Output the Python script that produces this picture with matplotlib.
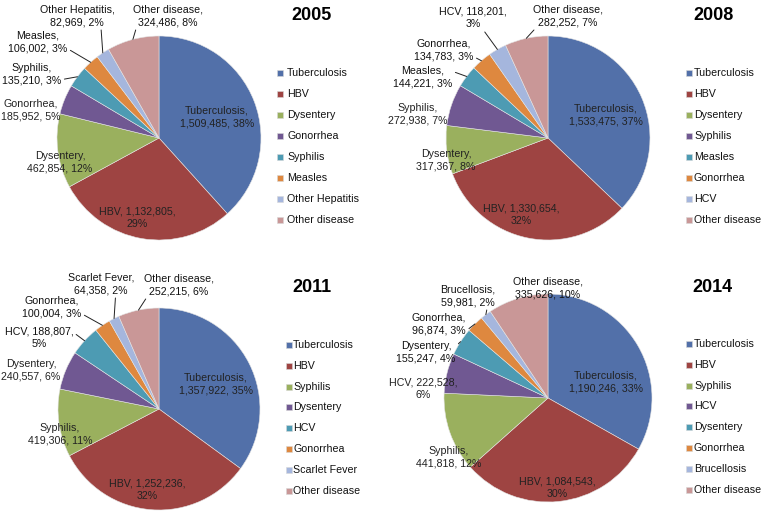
import numpy as np
import matplotlib.pyplot as plt
from matplotlib.patches import Rectangle

plt.rcParams['font.family'] = ['Liberation Sans', 'DejaVu Sans']

W, H = 762, 515

# ---- data ----
names_2005 = ['Tuberculosis', 'HBV', 'Dysentery', 'Gonorrhea', 'Syphilis', 'Measles', 'Other Hepatitis', 'Other disease']
cases_2005 = [1509485, 1132805, 462854, 185952, 135210, 106002, 82969, 324486]
pct_2005 = [38, 29, 12, 5, 3, 3, 2, 8]

names_2008 = ['Tuberculosis', 'HBV', 'Dysentery', 'Syphilis', 'Measles', 'Gonorrhea', 'HCV', 'Other disease']
cases_2008 = [1533475, 1330654, 317367, 272938, 144221, 134783, 118201, 282252]
pct_2008 = [37, 32, 8, 7, 3, 3, 3, 7]

names_2011 = ['Tuberculosis', 'HBV', 'Syphilis', 'Dysentery', 'HCV', 'Gonorrhea', 'Scarlet Fever', 'Other disease']
cases_2011 = [1357922, 1252236, 419306, 240557, 188807, 100004, 64358, 252215]
pct_2011 = [35, 32, 11, 6, 5, 3, 2, 6]

names_2014 = ['Tuberculosis', 'HBV', 'Syphilis', 'HCV', 'Dysentery', 'Gonorrhea', 'Brucellosis', 'Other disease']
cases_2014 = [1190246, 1084543, 441818, 222528, 155247, 96874, 59981, 335626]
pct_2014 = [33, 30, 12, 6, 4, 3, 2, 10]

colors = ['#5270A9', '#9E4442', '#9AB05E', '#705892', '#4D9BB3', '#DE883F', '#A5B6DD', '#C99797']

# ---- layout (pixel positions, y from top) ----
panels = [
    dict(year='2005', names=names_2005, cases=cases_2005, pct=pct_2005,
         center=(159, 138, 102), title=(312, 16), legend=(277, 287, 73, 21),
         labels=[(217, 117), (137, 218), (60, 162), (31, 110), (32, 74), (38, 42), (77, 16), (168, 16)],
         leaders={4: (1, 0.25), 5: (1, 0.2), 6: (0.82, 0), 7: (0.05, 0)}),
    dict(year='2008', names=names_2008, cases=cases_2008, pct=pct_2008,
         center=(548, 138, 102), title=(713, 16), legend=(686, 694, 73, 21),
         labels=[(606, 115), (521, 215), (446, 160), (418, 114), (423, 77), (444, 50), (473, 18), (568, 16)],
         leaders={4: (1, 0.75), 5: (1, 0.2), 6: (0.62, 0.1), 7: (0.05, 0)}),
    dict(year='2011', names=names_2011, cases=cases_2011, pct=pct_2011,
         center=(159, 409, 101), title=(312, 287), legend=(286, 293, 345, 20.8),
         labels=[(216, 384), (147, 490), (60, 434), (31, 370), (39, 338), (52, 307), (101, 284), (179, 285)],
         leaders={4: (1, 0.75), 5: (1, 0.2), 6: (0.72, 0), 7: (0.05, 0)}),
    dict(year='2014', names=names_2014, cases=cases_2014, pct=pct_2014,
         center=(548, 398, 104), title=(712, 287), legend=(686, 694, 344, 20.8),
         labels=[(606, 382), (557, 488), (449, 457), (423, 389), (426, 352), (439, 324), (468, 296), (548, 288)],
         leaders={4: (1, 0.75), 5: (1, 0.2), 6: (0.85, 0), 7: (0.05, 0)}),
]


def label_text(name, n, p):
    num = f'{n:,}'
    if len(name) <= 3:
        return f'{name}, {num},\n{p}%'
    return f'{name},\n{num}, {p}%'


fig = plt.figure(figsize=(W / 100, H / 100), dpi=100)
ax = fig.add_axes([0, 0, 1, 1])

for p in panels:
    cx, cy, r = p['center']
    wedges, _ = ax.pie(p['cases'], colors=colors, startangle=90, counterclock=False,
                       center=(cx, H - cy), radius=r, frame=True,
                       wedgeprops=dict(edgecolor='#e4e4e4', linewidth=0.4))

    for j, w in enumerate(wedges):
        s = label_text(p['names'][j], p['cases'][j], p['pct'][j])
        lx, ly = p['labels'][j]
        if j in p['leaders']:
            th = np.deg2rad((w.theta1 + w.theta2) / 2)
            ex = cx + r * np.cos(th)
            ey = H - cy + r * np.sin(th)
            ax.annotate(s, xy=(ex, ey), xytext=(lx, H - ly), ha='center', va='center',
                        fontsize=7.7, color='#111111', linespacing=1.3,
                        arrowprops=dict(arrowstyle='-', color='#222222', lw=0.7,
                                        relpos=p['leaders'][j], shrinkA=0, shrinkB=0))
        else:
            ax.text(lx, H - ly, s, ha='center', va='center', fontsize=7.7,
                    color='#222222', linespacing=1.3)

    # legend
    mx, tx, y0, step = p['legend']
    for j, name in enumerate(p['names']):
        y = y0 + j * step
        ax.add_patch(Rectangle((mx, H - y - 3), 6, 6, facecolor=colors[j],
                               edgecolor='#d8d8d8', linewidth=0.4))
        ax.text(tx, H - y, name, ha='left', va='center', fontsize=7.7, color='#111111')

    ttx, tty = p['title']
    ax.text(ttx, H - tty, p['year'], ha='center', va='center', fontsize=13, fontweight='bold')

ax.set_xlim(0, W)
ax.set_ylim(0, H)
ax.set_aspect('auto')
ax.axis('off')

fig.savefig('out.png', dpi=100)
